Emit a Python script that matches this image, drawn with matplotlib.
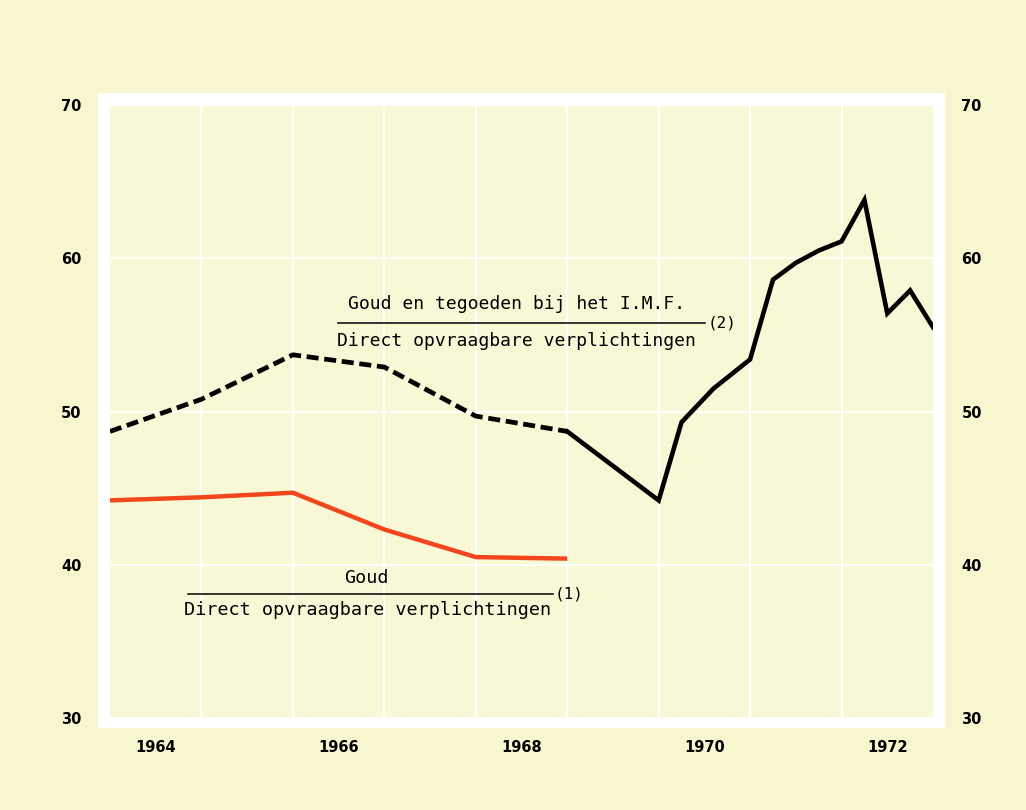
import matplotlib
matplotlib.use("Agg")
import matplotlib.pyplot as plt
from matplotlib.patches import Rectangle

# ---- data ----
years_annual = [1964.0, 1965.0, 1966.0, 1967.0, 1968.0, 1969.0]
goud = [44.2, 44.4, 44.7, 42.3, 40.5, 40.4]
goud_imf_early = [48.7, 50.8, 53.7, 52.9, 49.7, 48.7]

years_late = [1969.0, 1970.0, 1970.25, 1970.6, 1971.0, 1971.25, 1971.5,
              1971.75, 1972.0, 1972.25, 1972.5, 1972.75, 1973.0]
goud_imf_late = [48.7, 44.2, 49.3, 51.5, 53.4, 58.6, 59.7,
                 60.5, 61.1, 63.8, 56.4, 57.9, 55.5]

xtick_pos = [1964.5, 1966.5, 1968.5, 1970.5, 1972.5]
xtick_labels = ["1964", "1966", "1968", "1970", "1972"]
yticks = [30, 40, 50, 60, 70]

label_top_num = "Goud en tegoeden bij het I.M.F."
label_den = "Direct opvraagbare verplichtingen"
label_bot_num = "Goud"

# ---- figure ----
W, H = 1026, 810
page = "#f7f6cf"
inner = "#f9f8d6"
fig = plt.figure(figsize=(W / 100, H / 100), dpi=100, facecolor=page)

# white frame behind axes
fig.patches.append(Rectangle((98 / W, 1 - 728 / H), (945 - 98) / W, (728 - 93) / H,
                             transform=fig.transFigure, facecolor="white",
                             edgecolor="none", zorder=0))

ax = fig.add_axes([110 / W, 1 - 718 / H, (933 - 110) / W, (718 - 105) / H], zorder=1)
ax.set_facecolor(inner)
ax.set_xlim(1964, 1973)
ax.set_ylim(30, 70)
for s in ax.spines.values():
    s.set_visible(False)

ax.set_xticks(xtick_pos)
ax.set_xticklabels(xtick_labels)
ax.set_xticks(range(1965, 1973), minor=True)
ax.set_yticks(yticks)
ax.tick_params(which="both", length=0)
ax.tick_params(axis="y", labelright=True, labelleft=True, pad=20.5)
ax.tick_params(axis="x", pad=16)
for lab in ax.get_xticklabels():
    lab.set_fontweight("bold")
    lab.set_fontsize(10.5)
for t in ax.yaxis.get_major_ticks():
    for lab in (t.label1, t.label2):
        lab.set_fontweight("bold")
        lab.set_fontsize(10.5)

ax.grid(which="minor", axis="x", color="white", lw=1.3)
ax.grid(which="major", axis="y", color="white", lw=1.3)
ax.grid(which="major", axis="x", visible=False)
ax.set_axisbelow(True)

# ---- lines ----
ax.plot(years_annual, goud, color="#f2461f", lw=3.2, solid_capstyle="butt", zorder=3)
ax.plot(years_annual, goud_imf_early, color="black", lw=3.4,
        dashes=(2.55, 1.2), dash_capstyle="butt", zorder=3)
ax.plot(years_late, goud_imf_late, color="black", lw=3.3, zorder=3,
        solid_joinstyle="miter")

# ---- fraction labels ----
mono = "DejaVu Sans Mono"
tf = dict(fontfamily=mono, fontsize=13.0, color="black", ha="center", va="center")
ax.text(1968.45, 57.0, label_top_num, **tf)
ax.plot([1966.49, 1970.51], [55.78, 55.78], color="black", lw=1.1, zorder=3)
ax.text(1970.53, 55.78, "(2)", fontfamily=mono, fontsize=11.5, ha="left", va="center")
ax.text(1968.45, 54.62, label_den, **tf)

tf2 = dict(tf, fontsize=13.3)
ax.text(1966.80, 39.15, label_bot_num, **tf2)
ax.plot([1964.85, 1968.84], [38.1, 38.1], color="black", lw=1.1, zorder=3)
ax.text(1968.86, 38.1, "(1)", fontfamily=mono, fontsize=11.5, ha="left", va="center")
ax.text(1966.82, 37.06, label_den, **tf2)

fig.savefig("out.png", dpi=100, facecolor=page)
